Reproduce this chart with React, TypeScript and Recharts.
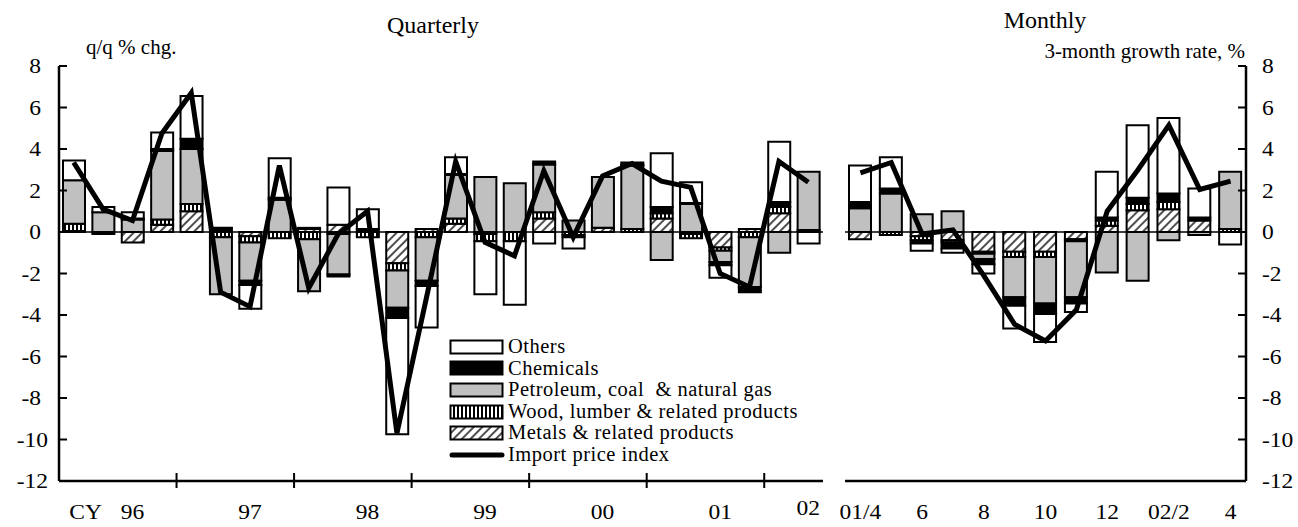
import React from 'react';
import { ComposedChart, Bar, Line, XAxis, YAxis, ReferenceLine, Legend } from 'recharts';

const FONT = '"Liberation Serif", "Times New Roman", serif';

// ---------- Quarterly data (q/q % chg.) ----------
const quarters = [
  '96Q1', '96Q2', '96Q3', '96Q4', '97Q1', '97Q2', '97Q3', '97Q4', '98Q1', '98Q2', '98Q3', '98Q4', '99Q1',
  '99Q2', '99Q3', '99Q4', '00Q1', '00Q2', '00Q3', '00Q4', '01Q1', '01Q2', '01Q3', '01Q4', '02Q1', '02Q2',
];
const quarterTickLabels = [
  '', '', '96', '', '', '', '97', '', '', '', '98', '', '', '', '99', '', '', '', '00', '', '', '', '01', '', '', '02',
];
const qMetals = [0.05, 0, -0.5, 0.35, 1.0, 0, -0.2, 0, 0.15, 0.35, 0, -1.5, 0.15, 0.4, -0.1, 0, 0.65, 0, 0.2, 0, 0.65, -0.1, -0.75, 0.15, 0.9, 0];
const qWood = [0.35, 0, 0, 0.25, 0.35, -0.25, -0.3, -0.3, -0.35, -0.1, -0.25, -0.35, -0.25, 0.25, -0.35, -0.45, 0.3, -0.15, 0, 0.15, 0.25, -0.2, -0.15, -0.25, 0.3, 0.1];
const qPetroleum = [2.1, 0.95, 0.6, 3.3, 2.65, -2.75, -1.85, 1.55, -2.5, -1.95, 0, -1.8, -2.1, 2.1, 2.65, 2.35, 2.3, 0.55, 2.45, 3.05, -1.35, 1.35, -0.55, -2.4, -1.0, 2.8];
const qChemicals = [0, -0.1, 0.05, 0.1, 0.5, 0.2, -0.2, 0.1, 0, -0.1, 0.15, -0.5, -0.25, 0.05, 0, 0, 0.15, -0.1, 0, 0.05, 0.3, 0.05, -0.15, -0.25, 0.25, 0];
const qOthers = [0.95, 0.25, 0.3, 0.8, 2.05, 0, -1.15, 1.9, 0.05, 1.8, 0.95, -5.6, -2.0, 0.8, -2.55, -3.05, -0.55, -0.55, 0, 0.1, 2.6, 1.0, -0.6, 0, 2.9, -0.55];
const qImportIndex = [3.35, 1.1, 0.55, 4.75, 6.7, -2.9, -3.6, 3.2, -2.7, -0.1, 1.0, -9.7, -3.2, 3.4, -0.5, -1.15, 2.95, -0.25, 2.7, 3.3, 2.45, 2.15, -2.0, -2.65, 3.4, 2.4];

// ---------- Monthly data (3-month growth rate, %) ----------
const months = ['01/4', '01/5', '01/6', '01/7', '01/8', '01/9', '01/10', '01/11', '01/12', '02/1', '02/2', '02/3', '02/4'];
const monthTickLabels = ['01/4', '', '6', '', '8', '', '10', '', '12', '', '02/2', '', '4'];
const mMetals = [-0.35, 0, -0.2, -0.4, -0.95, -0.95, -0.95, -0.35, 0.3, 1.05, 1.1, 0.55, 0];
const mWood = [0, -0.15, -0.2, -0.1, -0.1, -0.25, -0.25, -0.1, 0.25, 0.3, 0.35, 0, 0.15];
const mPetroleum = [1.15, 1.85, 0.85, 1.0, -0.25, -1.95, -2.25, -2.7, -1.95, -2.35, -0.4, -0.15, 2.75];
const mChemicals = [0.3, 0.25, -0.15, -0.3, -0.25, -0.4, -0.5, -0.3, 0.15, 0.3, 0.4, 0.15, 0];
const mOthers = [1.75, 1.5, -0.35, -0.2, -0.45, -1.1, -1.35, -0.4, 2.2, 3.5, 3.65, 1.4, -0.6];
const mImportIndex = [2.85, 3.35, -0.1, 0.1, -2.1, -4.45, -5.25, -3.75, 1.0, 3.0, 5.15, 2.05, 2.45];

const yTicks = [-12, -10, -8, -6, -4, -2, 0, 2, 4, 6, 8];

// stacking order from zero outward
const seriesDefs = [
  { key: 'metals', name: 'Metals & related products', fill: 'url(#pat-metals)' },
  { key: 'wood', name: 'Wood, lumber & related products', fill: 'url(#pat-wood)' },
  { key: 'petroleum', name: 'Petroleum, coal  & natural gas', fill: '#c0c0c0' },
  { key: 'chemicals', name: 'Chemicals', fill: '#000000' },
  { key: 'others', name: 'Others', fill: '#ffffff' },
];
const legendOrder = ['others', 'chemicals', 'petroleum', 'wood', 'metals', 'line'];
const lineName = 'Import price index';

const quarterlyData = quarters.map((c, i) => ({
  cat: c,
  metals: qMetals[i],
  wood: qWood[i],
  petroleum: qPetroleum[i],
  chemicals: qChemicals[i],
  others: qOthers[i],
  line: qImportIndex[i],
}));
const monthlyData = months.map((c, i) => ({
  cat: c,
  metals: mMetals[i],
  wood: mWood[i],
  petroleum: mPetroleum[i],
  chemicals: mChemicals[i],
  others: mOthers[i],
  line: mImportIndex[i],
}));

const Q_HALF_STEP = 764 / quarters.length / 2;
const SX = 1.12; // horizontal stretch of the original lettering

const textStyle = { fontFamily: FONT, fontSize: 21, fill: '#000' };

const STxt = ({ x, y, anchor, children, dy }: any) => (
  <text
    transform={`translate(${x},${y}) scale(${SX},1)`}
    x={0}
    y={0}
    dy={dy}
    textAnchor={anchor}
    style={textStyle}
  >
    {children}
  </text>
);

const LeftYTick = (props: any) => {
  const { x, y, payload } = props;
  const v = payload.value;
  const gap = Math.abs(v) >= 10 ? 11 : 18;
  return (
    <g>
      <line x1={x} x2={x + 8} y1={y} y2={y} stroke="#000" strokeWidth={2} />
      <STxt x={x - gap} y={y} dy="0.35em" anchor="end">
        {v}
      </STxt>
    </g>
  );
};

const RightYTick = (props: any) => {
  const { x, y, payload } = props;
  const v = payload.value;
  return (
    <g>
      <line x1={x - 8} x2={x} y1={y} y2={y} stroke="#000" strokeWidth={2} />
      <STxt x={x + 16} y={y} dy="0.35em" anchor="start">
        {v}
      </STxt>
    </g>
  );
};

const QuarterTick = (props: any) => {
  const { x, y, payload } = props;
  const idx = quarters.indexOf(payload.value);
  const half = typeof payload.offset === 'number' && payload.offset > 0 ? payload.offset : Q_HALF_STEP;
  const label = quarterTickLabels[idx];
  const boundary = idx > 0 && idx % 4 === 0;
  const isLast = idx === quarters.length - 1;
  return (
    <g>
      {boundary && <line x1={x - half} x2={x - half} y1={y - 8} y2={y + 7} stroke="#000" strokeWidth={2} />}
      {idx === 0 && (
        <STxt x={x + 12} y={y + 38} anchor="middle">
          CY
        </STxt>
      )}
      {label && (
        <STxt x={x} y={y + (isLast ? 34 : 38)} anchor="middle">
          {label}
        </STxt>
      )}
    </g>
  );
};

const MonthTick = (props: any) => {
  const { x, y, payload } = props;
  const idx = months.indexOf(payload.value);
  const label = monthTickLabels[idx];
  if (!label) return <g />;
  return (
    <STxt x={x} y={y + 38} anchor="middle">
      {label}
    </STxt>
  );
};

const renderLegend = () => {
  const rows = legendOrder.map((k) => {
    if (k === 'line') return { key: k, name: lineName, fill: '' };
    return seriesDefs.find((s) => s.key === k)!;
  });
  return (
    <div style={{ fontFamily: FONT, fontSize: 20.5, color: '#000' }}>
      {rows.map((r) => (
        <div key={r.key} style={{ display: 'flex', alignItems: 'center', height: 21.6, whiteSpace: 'pre' }}>
          <svg width={57} height={16} style={{ display: 'block', flex: 'none' }}>
            {r.key === 'line' ? (
              <line x1={3} x2={53} y1={8} y2={8} stroke="#000" strokeWidth={5} strokeLinecap="round" />
            ) : (
              <rect x={1.5} y={1.5} width={52} height={13} fill={r.fill} stroke="#000" strokeWidth={2} />
            )}
          </svg>
          <span style={{ marginLeft: 2, lineHeight: '21.6px', letterSpacing: '0.5px' }}>{r.name}</span>
        </div>
      ))}
    </div>
  );
};

const renderBars = () =>
  seriesDefs.map((s) => (
    <Bar
      key={s.key}
      dataKey={s.key}
      name={s.name}
      stackId="a"
      fill={s.fill}
      stroke="#000"
      strokeWidth={2}
      barSize={22}
      isAnimationActive={false}
    />
  ));

export default function App() {
  return (
    <div style={{ position: 'absolute', left: 0, top: 0, width: 1298, height: 527, background: '#fff', overflow: 'hidden' }}>
      <svg width={1298} height={527} style={{ position: 'absolute', left: 0, top: 0 }}>
        <defs>
          <pattern id="pat-metals" patternUnits="userSpaceOnUse" width="6" height="6" patternTransform="rotate(45)">
            <rect width="6" height="6" fill="#fff" />
            <line x1="1" y1="0" x2="1" y2="6" stroke="#222" strokeWidth="1.6" />
          </pattern>
          <pattern id="pat-wood" patternUnits="userSpaceOnUse" width="4" height="4">
            <rect width="4" height="4" fill="#fff" />
            <rect x="0" y="0" width="2" height="4" fill="#000" />
          </pattern>
        </defs>
        <text x={433} y={33} textAnchor="middle" style={{ fontFamily: FONT, fontSize: 24 }}>
          Quarterly
        </text>
        <text x={1045} y={28} textAnchor="middle" style={{ fontFamily: FONT, fontSize: 24 }}>
          Monthly
        </text>
        <text x={86} y={54} textAnchor="start" style={{ fontFamily: FONT, fontSize: 21 }}>
          q/q % chg.
        </text>
        <text x={1245} y={58} textAnchor="end" style={{ fontFamily: FONT, fontSize: 21 }}>
          3-month growth rate, %
        </text>
      </svg>

      <div style={{ position: 'absolute', left: 0, top: 0 }}>
        <ComposedChart
          width={850}
          height={527}
          data={quarterlyData}
          stackOffset="sign"
          margin={{ top: 66, right: 27, bottom: 0, left: 0 }}
        >
          <XAxis
            dataKey="cat"
            type="category"
            height={46}
            interval={0}
            tickLine={false}
            tickSize={0}
            tickMargin={0}
            tick={<QuarterTick />}
            axisLine={{ stroke: '#000', strokeWidth: 2.5 }}
          />
          <XAxis
            xAxisId="top"
            dataKey="cat"
            orientation="top"
            height={0}
            tick={false}
            tickLine={false}
            axisLine={{ stroke: '#000', strokeWidth: 2 }}
          />
          <YAxis
            domain={[-12, 8]}
            ticks={yTicks}
            width={59}
            interval={0}
            tickLine={false}
            tickSize={0}
            tickMargin={0}
            tick={<LeftYTick />}
            axisLine={{ stroke: '#000', strokeWidth: 2.5 }}
          />
          <YAxis
            yAxisId="rb"
            orientation="right"
            domain={[-12, 8]}
            width={0}
            tick={false}
            tickLine={false}
            axisLine={{ stroke: '#000', strokeWidth: 2 }}
          />
          <ReferenceLine y={0} stroke="#000" strokeWidth={1.5} />
          {renderBars()}
          <Line
            type="linear"
            dataKey="line"
            name={lineName}
            stroke="#000"
            strokeWidth={5}
            dot={false}
            isAnimationActive={false}
          />
          <Legend
            layout="vertical"
            align="center"
            verticalAlign="middle"
            content={renderLegend}
            wrapperStyle={{ position: 'absolute', left: 449, top: 336, width: 380 }}
          />
        </ComposedChart>
      </div>

      <div style={{ position: 'absolute', left: 830, top: 0 }}>
        <ComposedChart
          width={468}
          height={527}
          data={monthlyData}
          stackOffset="sign"
          margin={{ top: 66, right: 0, bottom: 0, left: 15 }}
        >
          <XAxis
            dataKey="cat"
            type="category"
            height={46}
            interval={0}
            tickLine={false}
            tickSize={0}
            tickMargin={0}
            tick={<MonthTick />}
            axisLine={{ stroke: '#000', strokeWidth: 2.5 }}
          />
          <XAxis
            xAxisId="top"
            dataKey="cat"
            orientation="top"
            height={0}
            tick={false}
            tickLine={false}
            axisLine={{ stroke: '#000', strokeWidth: 2 }}
          />
          <YAxis
            orientation="right"
            domain={[-12, 8]}
            ticks={yTicks}
            width={52}
            interval={0}
            tickLine={false}
            tickSize={0}
            tickMargin={0}
            tick={<RightYTick />}
            axisLine={{ stroke: '#000', strokeWidth: 2.5 }}
          />
          <YAxis
            yAxisId="lb"
            orientation="left"
            domain={[-12, 8]}
            width={0}
            tick={false}
            tickLine={false}
            axisLine={{ stroke: '#000', strokeWidth: 2 }}
          />
          <ReferenceLine y={0} stroke="#000" strokeWidth={1.5} />
          {renderBars()}
          <Line
            type="linear"
            dataKey="line"
            name={lineName}
            stroke="#000"
            strokeWidth={5}
            dot={false}
            isAnimationActive={false}
          />
        </ComposedChart>
      </div>
    </div>
  );
}
